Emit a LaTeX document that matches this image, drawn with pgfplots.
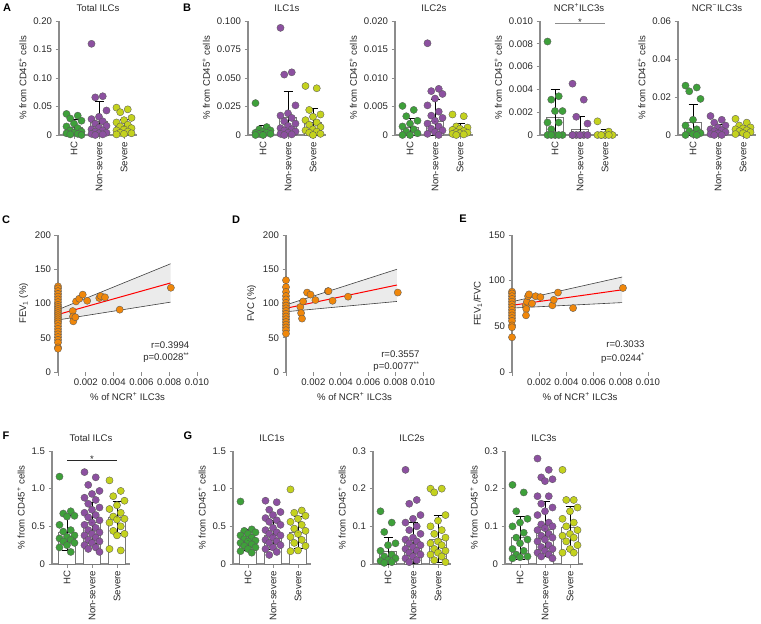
\documentclass[border=0pt]{standalone}
\usepackage{pgfplots}
\pgfplotsset{compat=1.18}
\usepackage{fontspec}
\setmainfont{Liberation Sans}

\definecolor{hcg}{RGB}{62,160,58}
\definecolor{nsp}{RGB}{140,80,160}
\definecolor{svy}{RGB}{196,210,30}
\definecolor{org}{RGB}{240,135,10}
\definecolor{axg}{RGB}{140,140,140}
\definecolor{txt}{RGB}{40,40,40}
\definecolor{barg}{RGB}{120,120,120}

\newcommand\fsz{\fontsize{9.6}{11}\selectfont}
% horizontal spread of the dots inside a column
\newcommand\jit[1]{#1+0.15*(mod(3*\coordindex,5)-2)}

\pgfplotsset{
  base/.style={scale only axis, anchor=south west, clip=false, enlargelimits=false,
    axis lines=left, axis line style={-, draw=axg, line width=1.1pt},
    tick align=outside, major tick length=3.5pt, tick style={axg, line width=0.9pt},
    tick label style={font=\fsz, text=txt}, label style={font=\fsz, text=txt},
    title style={font=\fsz, text=txt}, scaled ticks=false},
  bars/.style={base, width=78pt, height=114pt, xmin=-0.6, xmax=2.52, ymin=0,
    xtick={0,1,2}, xticklabels={HC,Non-severe,Severe},
    xticklabel style={rotate=90, anchor=east},
    ylabel={\% from CD45\textsuperscript{+} cells}},
  sc/.style={base, height=137pt, xmin=0, xmax=0.01, ymin=0,
    xtick={0,0.002,0.004,0.006,0.008,0.01},
    xticklabels={,0.002,0.004,0.006,0.008,0.010},
    x axis line style={draw=none},
    xlabel={\% of NCR\textsuperscript{+} ILC3s}},
  barplot/.style={ybar, bar width=17pt, bar shift=0pt, draw=barg, fill=white, line width=0.9pt},
  dots/.style={only marks, mark=*, mark size=3.6pt,
    mark options={fill=#1, draw=black!65, line width=0.35pt}},
  errs/.style={only marks, mark=*, mark size=0.01pt, mark options={draw=none, fill=none},
    black, error bars/y dir=both, error bars/y explicit,
    error bars/error bar style={line width=0.8pt, black},
    error bars/error mark options={rotate=90, mark size=4.5pt, line width=0.8pt, black}},
  band/.style={fill=black!8, draw=none},
  ci/.style={black!75, line width=0.6pt},
  fit/.style={red, line width=1pt},
}

\begin{document}
\begin{tikzpicture}
\path[use as bounding box] (0,0) rectangle (761pt,-624pt);

\node[font=\bfseries\fontsize{11}{12}\selectfont] at (7pt,-8pt) {A};
\node[font=\bfseries\fontsize{11}{12}\selectfont] at (187pt,-8pt) {B};
\node[font=\bfseries\fontsize{11}{12}\selectfont] at (6pt,-220pt) {C};
\node[font=\bfseries\fontsize{11}{12}\selectfont] at (236pt,-220pt) {D};
\node[font=\bfseries\fontsize{11}{12}\selectfont] at (463pt,-219pt) {E};
\node[font=\bfseries\fontsize{11}{12}\selectfont] at (6pt,-436pt) {F};
\node[font=\bfseries\fontsize{11}{12}\selectfont] at (188pt,-436pt) {G};

% ---------- A: total ILCs
\begin{axis}[bars, at={(59pt,-135pt)}, ymax=0.2, ytick={0,0.05,0.1,0.15,0.2},
  yticklabels={0,0.05,0.10,0.15,0.20}, title={Total ILCs}]
\addplot[barplot] coordinates {(0,0.0125) (1,0.023) (2,0.0145)};
\addplot[dots=hcg] table[row sep=\\, header=false, x expr={\jit{0}}, y index=0]
{0.037\\0.034\\0.029\\0.025\\0.02\\0.015\\0.012\\0.008\\0.006\\0.004\\0.003\\0.002\\0.001\\0\\};
\addplot[dots=nsp] table[row sep=\\, header=false, x expr={\jit{1}}, y index=0]
{0.16\\0.068\\0.066\\0.043\\0.032\\0.028\\0.024\\0.02\\0.016\\0.013\\0.01\\0.008\\0.006\\0.004\\0.003\\0.002\\0.001\\0\\};
\addplot[dots=svy] table[row sep=\\, header=false, x expr={\jit{2}}, y index=0]
{0.048\\0.045\\0.04\\0.03\\0.026\\0.022\\0.018\\0.015\\0.012\\0.01\\0.008\\0.006\\0.004\\0.003\\0.002\\0.001\\};
\addplot[errs] coordinates {(0,0.0125) += (0,0.014) -= (0,0.0125)
  (1,0.023) += (0,0.036) -= (0,0.023) (2,0.0145) += (0,0.0135) -= (0,0.0135)};
\end{axis}

% ---------- B: ILC1s
\begin{axis}[bars, at={(248pt,-135pt)}, ymax=0.1, ytick={0,0.025,0.05,0.075,0.1},
  yticklabels={0,0.025,0.050,0.075,0.100}, title={ILC1s}]
\addplot[barplot] coordinates {(0,0.003) (1,0.015) (2,0.011)};
\addplot[dots=hcg] table[row sep=\\, header=false, x expr={\jit{0}}, y index=0]
{0.028\\0.007\\0.005\\0.004\\0.003\\0.002\\0.002\\0.001\\0.001\\0\\0\\};
\addplot[dots=nsp] table[row sep=\\, header=false, x expr={\jit{1}}, y index=0]
{0.094\\0.055\\0.053\\0.026\\0.019\\0.017\\0.015\\0.012\\0.01\\0.008\\0.006\\0.005\\0.004\\0.003\\0.002\\0.001\\0.0005\\0\\};
\addplot[dots=svy] table[row sep=\\, header=false, x expr={\jit{2}}, y index=0]
{0.043\\0.041\\0.022\\0.018\\0.016\\0.013\\0.011\\0.009\\0.007\\0.005\\0.004\\0.003\\0.002\\0.001\\0\\};
\addplot[errs] coordinates {(0,0.003) += (0,0.005) -= (0,0.003)
  (1,0.015) += (0,0.0235) -= (0,0.015) (2,0.011) += (0,0.0124) -= (0,0.011)};
\end{axis}

% ---------- B: ILC2s
\begin{axis}[bars, at={(395pt,-135pt)}, ymax=0.02, ytick={0,0.005,0.01,0.015,0.02},
  yticklabels={0,0.005,0.010,0.015,0.020}, title={ILC2s}]
\addplot[barplot] coordinates {(0,0.0014) (1,0.0024) (2,0.001)};
\addplot[dots=hcg] table[row sep=\\, header=false, x expr={\jit{0}}, y index=0]
{0.0051\\0.0044\\0.0033\\0.0025\\0.002\\0.0015\\0.001\\0.0006\\0.0003\\0\\0\\};
\addplot[dots=nsp] table[row sep=\\, header=false, x expr={\jit{1}}, y index=0]
{0.0161\\0.0081\\0.0077\\0.0072\\0.0064\\0.0052\\0.0041\\0.0034\\0.003\\0.0025\\0.002\\0.0015\\0.0011\\0.0008\\0.0005\\0.0002\\0\\};
\addplot[dots=svy] table[row sep=\\, header=false, x expr={\jit{2}}, y index=0]
{0.0036\\0.0033\\0.0015\\0.0013\\0.0011\\0.0009\\0.0007\\0.0005\\0.0004\\0.0003\\0.0002\\0.0001\\0\\};
\addplot[errs] coordinates {(0,0.0014) += (0,0.0016) -= (0,0.0014)
  (1,0.0024) += (0,0.0039) -= (0,0.0024) (2,0.001) += (0,0.001) -= (0,0.001)};
\end{axis}

% ---------- B: NCR+ ILC3s
\begin{axis}[bars, at={(540pt,-135pt)}, ymax=0.01, ytick={0,0.002,0.004,0.006,0.008,0.01},
  yticklabels={0,0.002,0.004,0.006,0.008,0.010}, title={NCR\textsuperscript{+}ILC3s}]
\addplot[barplot] coordinates {(0,0.00157) (1,0.0005) (2,0.00012)};
\addplot[dots=hcg] table[row sep=\\, header=false, x expr={\jit{0}}, y index=0]
{0.0082\\0.0034\\0.0031\\0.0021\\0.0021\\0.0011\\0.0011\\0.0005\\0\\0\\0\\0\\0\\};
\addplot[dots=nsp] table[row sep=\\, header=false, x expr={\jit{1}}, y index=0]
{0.0045\\0.0031\\0.0016\\0.001\\0\\0\\0\\0\\0\\0\\0\\};
\addplot[dots=svy] table[row sep=\\, header=false, x expr={\jit{2}}, y index=0]
{0.0012\\0.0003\\0\\0\\0\\0\\0\\0\\};
\addplot[errs] coordinates {(0,0.00157) += (0,0.0024) -= (0,0.00157)
  (1,0.0005) += (0,0.0011) -= (0,0.0005) (2,0.00012) += (0,0.0004) -= (0,0.00012)};
\draw[axg, line width=0.8pt] (axis cs:0,0.0098) -- (axis cs:2,0.0098);
\node[font=\fsz, anchor=south, inner sep=0pt, text=txt] at (axis cs:1,0.0096) {*};
\end{axis}

% ---------- B: NCR- ILC3s
\begin{axis}[bars, at={(678pt,-135pt)}, ymax=0.06, ytick={0,0.02,0.04,0.06},
  yticklabels={0,0.02,0.04,0.06}, title={NCR\textsuperscript{−}ILC3s}]
\addplot[barplot] coordinates {(0,0.0065) (1,0.0026) (2,0.0026)};
\addplot[dots=hcg] table[row sep=\\, header=false, x expr={\jit{0}}, y index=0]
{0.026\\0.025\\0.023\\0.019\\0.008\\0.005\\0.003\\0.002\\0.001\\0.0005\\0\\0\\};
\addplot[dots=nsp] table[row sep=\\, header=false, x expr={\jit{1}}, y index=0]
{0.01\\0.008\\0.0065\\0.005\\0.004\\0.003\\0.0025\\0.002\\0.0015\\0.001\\0.0005\\0\\0\\};
\addplot[dots=svy] table[row sep=\\, header=false, x expr={\jit{2}}, y index=0]
{0.0085\\0.0065\\0.005\\0.004\\0.0035\\0.003\\0.0025\\0.002\\0.0015\\0.001\\0.0005\\0\\};
\addplot[errs] coordinates {(0,0.0065) += (0,0.0095) -= (0,0.0065)
  (1,0.0026) += (0,0.0032) -= (0,0.0026) (2,0.0026) += (0,0.0024) -= (0,0.0024)};
\end{axis}

% ---------- C: FEV1
\begin{axis}[sc, at={(58pt,-372pt)}, width=139pt, ymax=200, ytick={0,50,100,150,200},
  yticklabels={0,50,100,150,200}, ylabel={FEV\textsubscript{1} (\%)}]
\addplot[band] coordinates {(0,91) (0.0081,158) (0.0081,102) (0,76)} -- cycle;
\addplot[ci] coordinates {(0,91) (0.0081,158)};
\addplot[ci] coordinates {(0,76) (0.0081,102)};
\addplot[fit] coordinates {(0,84) (0.0081,130)};
\addplot[dots=org] coordinates {
  (0,125) (0,122) (0,118) (0,114) (0,110) (0,106) (0,102) (0,98) (0,95) (0,92) (0,89)
  (0,86) (0,83) (0,80) (0,77) (0,74) (0,71) (0,67) (0,63) (0,59) (0,55) (0,51) (0,47)
  (0,43) (0,36) (0,34)
  (0.00106,89) (0.00108,81) (0.0011,74) (0.00125,80) (0.0013,103) (0.00153,107)
  (0.00178,113) (0.0021,104) (0.00297,108) (0.00307,111) (0.00338,109) (0.00444,91)
  (0.00812,123)};
\node[anchor=east, font=\fsz, text=txt] at (axis cs:0.0097,39) {r=0.3994};
\node[anchor=east, font=\fsz, text=txt] at (axis cs:0.0097,21) {p=0.0028\textsuperscript{**}};
\end{axis}

% ---------- D: FVC
\begin{axis}[sc, at={(286pt,-372pt)}, width=137pt, ymax=200, ytick={0,50,100,150,200},
  yticklabels={0,50,100,150,200}, ylabel={FVC (\%)}]
\addplot[band] coordinates {(0,98) (0.0081,150) (0.0081,103) (0,88)} -- cycle;
\addplot[ci] coordinates {(0,98) (0.0081,150)};
\addplot[ci] coordinates {(0,88) (0.0081,103)};
\addplot[fit] coordinates {(0,93) (0.0081,127)};
\addplot[dots=org] coordinates {
  (0,134) (0,124) (0,117) (0,111) (0,106) (0,101) (0,97) (0,93) (0,89) (0,85) (0,81)
  (0,77) (0,73) (0,69) (0,65) (0,61) (0,56)
  (0.00105,95) (0.0011,86) (0.00117,78) (0.00125,103) (0.00154,116) (0.00179,113)
  (0.00215,105) (0.00306,118) (0.0031,118) (0.0034,104) (0.00453,110) (0.00816,116)};
\node[anchor=east, font=\fsz, text=txt] at (axis cs:0.01,26) {r=0.3557};
\node[anchor=east, font=\fsz, text=txt] at (axis cs:0.01,8) {p=0.0077\textsuperscript{**}};
\end{axis}

% ---------- E: FEV1/FVC
\begin{axis}[sc, at={(512pt,-372pt)}, width=136pt, ymax=150, ytick={0,50,100,150},
  yticklabels={0,50,100,150}, ylabel={FEV\textsubscript{1}/FVC}]
\addplot[band] coordinates {(0,77) (0.0081,104) (0.0081,76) (0,70)} -- cycle;
\addplot[ci] coordinates {(0,77) (0.0081,104)};
\addplot[ci] coordinates {(0,70) (0.0081,76)};
\addplot[fit] coordinates {(0,73) (0.0081,90)};
\addplot[dots=org] coordinates {
  (0,88) (0,86) (0,83) (0,80) (0,77) (0,74) (0,71) (0,68) (0,65) (0,62) (0,59) (0,56)
  (0,51) (0,49) (0,38)
  (0.00101,73) (0.00105,69) (0.00103,62) (0.0011,77) (0.00118,83) (0.00125,85)
  (0.00147,75) (0.00174,83) (0.00209,82) (0.00297,73) (0.00307,79) (0.00338,87)
  (0.00449,70) (0.00816,92)};
\node[anchor=east, font=\fsz, text=txt] at (axis cs:0.01,30) {r=0.3033};
\node[anchor=east, font=\fsz, text=txt] at (axis cs:0.01,15) {p=0.0244\textsuperscript{*}};
\end{axis}

% ---------- F: total ILCs
\begin{axis}[bars, at={(52pt,-564pt)}, height=113pt, ymax=1.5, ytick={0,0.5,1,1.5},
  yticklabels={0,0.5,1.0,1.5}, title={Total ILCs}]
\addplot[barplot] coordinates {(0,0.415) (1,0.547) (2,0.618)};
\addplot[dots=hcg] table[row sep=\\, header=false, x expr={\jit{0}}, y index=0]
{1.16\\0.70\\0.67\\0.64\\0.63\\0.52\\0.45\\0.43\\0.38\\0.36\\0.34\\0.32\\0.30\\0.28\\0.25\\0.22\\0.16\\};
\addplot[dots=nsp] table[row sep=\\, header=false, x expr={\jit{1}}, y index=0]
{1.22\\1.15\\1.05\\0.97\\0.93\\0.88\\0.85\\0.80\\0.75\\0.72\\0.68\\0.65\\0.62\\0.58\\0.55\\0.52\\0.48\\0.45\\0.42\\0.40\\0.38\\0.35\\0.32\\0.30\\0.28\\0.25\\0.22\\0.20\\0.16\\};
\addplot[dots=svy] table[row sep=\\, header=false, x expr={\jit{2}}, y index=0]
{1.11\\0.97\\0.90\\0.84\\0.78\\0.73\\0.68\\0.63\\0.60\\0.59\\0.55\\0.50\\0.44\\0.40\\0.38\\0.20\\0.18\\};
\addplot[errs] coordinates {(0,0.415) +- (0,0.23) (1,0.547) +- (0,0.275) (2,0.618) +- (0,0.21)};
\draw[txt, line width=0.8pt] (axis cs:0,1.375) -- (axis cs:2,1.375);
\node[font=\fsz, anchor=south, inner sep=0pt, text=txt] at (axis cs:1,1.35) {*};
\end{axis}

% ---------- G: ILC1s
\begin{axis}[bars, at={(233pt,-564pt)}, height=113pt, ymax=1.5, ytick={0,0.5,1,1.5},
  yticklabels={0,0.5,1.0,1.5}, title={ILC1s}]
\addplot[barplot] coordinates {(0,0.318) (1,0.384) (2,0.42)};
\addplot[dots=hcg] table[row sep=\\, header=false, x expr={\jit{0}}, y index=0]
{0.83\\0.46\\0.44\\0.42\\0.40\\0.38\\0.35\\0.33\\0.31\\0.30\\0.28\\0.26\\0.24\\0.22\\0.20\\0.17\\0.15\\};
\addplot[dots=nsp] table[row sep=\\, header=false, x expr={\jit{1}}, y index=0]
{0.84\\0.82\\0.72\\0.69\\0.65\\0.61\\0.58\\0.56\\0.52\\0.48\\0.45\\0.42\\0.40\\0.38\\0.35\\0.32\\0.30\\0.28\\0.25\\0.22\\0.20\\0.16\\0.12\\};
\addplot[dots=svy] table[row sep=\\, header=false, x expr={\jit{2}}, y index=0]
{0.99\\0.71\\0.68\\0.64\\0.60\\0.56\\0.52\\0.47\\0.44\\0.40\\0.36\\0.32\\0.28\\0.24\\0.18\\0.17\\};
\addplot[errs] coordinates {(0,0.318) +- (0,0.14) (1,0.384) +- (0,0.19) (2,0.42) +- (0,0.21)};
\end{axis}

% ---------- G: ILC2s
\begin{axis}[bars, at={(373pt,-564pt)}, height=113pt, ymax=0.3, ytick={0,0.1,0.2,0.3},
  yticklabels={0,0.1,0.2,0.3}, title={ILC2s}]
\addplot[barplot] coordinates {(0,0.033) (1,0.056) (2,0.066)};
\addplot[dots=hcg] table[row sep=\\, header=false, x expr={\jit{0}}, y index=0]
{0.14\\0.11\\0.085\\0.055\\0.05\\0.035\\0.025\\0.02\\0.015\\0.01\\0.008\\0.005\\0.003\\};
\addplot[dots=nsp] table[row sep=\\, header=false, x expr={\jit{1}}, y index=0]
{0.25\\0.17\\0.16\\0.13\\0.12\\0.11\\0.10\\0.09\\0.08\\0.07\\0.065\\0.06\\0.055\\0.05\\0.045\\0.04\\0.035\\0.03\\0.025\\0.02\\0.015\\0.01\\0.005\\};
\addplot[dots=svy] table[row sep=\\, header=false, x expr={\jit{2}}, y index=0]
{0.20\\0.20\\0.19\\0.13\\0.115\\0.10\\0.09\\0.08\\0.07\\0.06\\0.055\\0.05\\0.04\\0.035\\0.03\\0.025\\0.02\\0.01\\0.005\\};
\addplot[errs] coordinates {(0,0.033) += (0,0.037) -= (0,0.033)
  (1,0.056) += (0,0.054) -= (0,0.054) (2,0.066) += (0,0.062) -= (0,0.062)};
\end{axis}

% ---------- G: ILC3s
\begin{axis}[bars, at={(505pt,-564pt)}, height=113pt, ymax=0.3, ytick={0,0.1,0.2,0.3},
  yticklabels={0,0.1,0.2,0.3}, title={ILC3s}]
\addplot[barplot] coordinates {(0,0.07) (1,0.093) (2,0.096)};
\addplot[dots=hcg] table[row sep=\\, header=false, x expr={\jit{0}}, y index=0]
{0.21\\0.19\\0.14\\0.12\\0.11\\0.10\\0.083\\0.07\\0.065\\0.055\\0.04\\0.035\\0.025\\0.02\\0.018\\0.015\\};
\addplot[dots=nsp] table[row sep=\\, header=false, x expr={\jit{1}}, y index=0]
{0.28\\0.25\\0.23\\0.225\\0.22\\0.18\\0.18\\0.16\\0.15\\0.14\\0.13\\0.11\\0.105\\0.10\\0.095\\0.09\\0.08\\0.075\\0.07\\0.065\\0.06\\0.05\\0.045\\0.04\\0.035\\0.03\\0.025\\0.02\\0.015\\};
\addplot[dots=svy] table[row sep=\\, header=false, x expr={\jit{2}}, y index=0]
{0.25\\0.17\\0.17\\0.15\\0.14\\0.12\\0.11\\0.10\\0.09\\0.08\\0.075\\0.07\\0.06\\0.05\\0.04\\0.03\\0.03\\};
\addplot[errs] coordinates {(0,0.07) += (0,0.057) -= (0,0.057)
  (1,0.093) += (0,0.072) -= (0,0.072) (2,0.096) +- (0,0.056)};
\end{axis}

\end{tikzpicture}
\end{document}
